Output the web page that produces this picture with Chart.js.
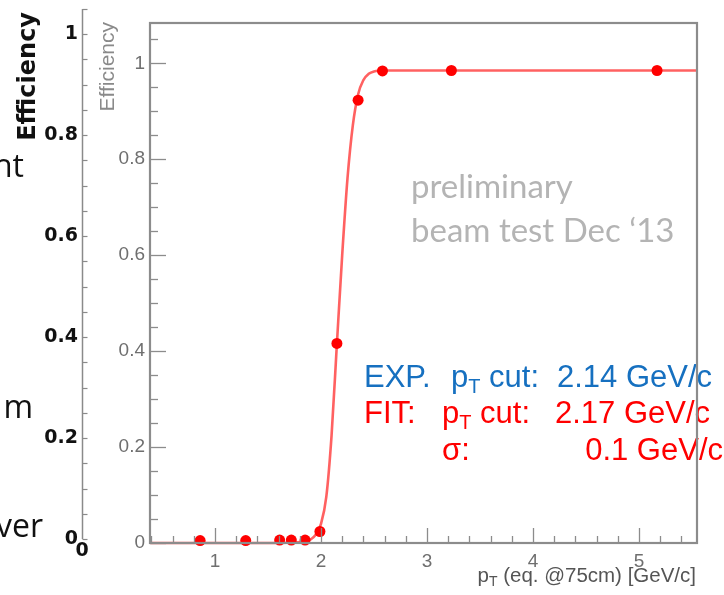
<!DOCTYPE html>
<html><head><meta charset="utf-8">
<script src="https://cdn.jsdelivr.net/npm/chart.js@4/dist/chart.umd.min.js"></script>
<style>
html,body{margin:0;padding:0;background:#fff;}
#wrap{position:relative;width:724px;height:595px;overflow:hidden;background:#fff;}
#outer{position:absolute;left:0;top:0;width:724px;height:595px;}
#inner{position:absolute;left:90px;top:0;width:634px;height:595px;}
</style></head><body>
<div id="wrap">
<canvas id="outer" width="724" height="595"></canvas>
<canvas id="inner" width="634" height="595"></canvas>
</div>
<script>
// ---- data ----
const pointX = [0.86, 1.29, 1.61, 1.72, 1.85, 1.99, 2.15, 2.35, 2.58, 3.23, 5.17];
const pointY = [0.005, 0.005, 0.006, 0.006, 0.006, 0.024, 0.416, 0.923, 0.984, 0.985, 0.985];
const fitX = [0.39, 1.60, 1.75, 1.85, 1.90, 1.95, 2.00, 2.05, 2.10, 2.15, 2.20, 2.25, 2.30, 2.35, 2.40, 2.45, 2.50, 2.60, 2.80, 5.55];
const fitY = [0.000, 0.000, 0.001, 0.003, 0.007, 0.017, 0.040, 0.096, 0.225, 0.415, 0.600, 0.760, 0.870, 0.935, 0.965, 0.978, 0.983, 0.985, 0.985, 0.985];
const innerXTicks = [1, 2, 3, 4, 5];
const innerYTicks = [0, 0.2, 0.4, 0.6, 0.8, 1];
const outerYTicks = [0, 0.2, 0.4, 0.6, 0.8, 1];
const outerXTicks = [0];
const bgFragments = ['nt', 'm', 'ver'];
const watermark = ['preliminary', 'beam test Dec \u201813'];

const ARIAL = '"Liberation Sans", Arial, sans-serif';
const DEJAVU = '"DejaVu Sans", sans-serif';
const plainLabel = v => String(+(+v).toFixed(3));

function minorValues(from, to, step) {
  const out = [];
  for (let i = 0; ; i++) { const v = +(from + i * step).toFixed(6); if (v > to + 1e-9) break; out.push(v); }
  return out;
}

// ---------- outer (slide) axis ----------
const outerPlugin = {
  id: 'outerDeco',
  afterDraw(chart) {
    const ctx = chart.ctx, y = chart.scales.y, ca = chart.chartArea;
    const x0 = ca.left + 0.5;
    ctx.save();
    ctx.strokeStyle = '#8a8a8a'; ctx.lineWidth = 1.5;
    ctx.beginPath();
    ctx.moveTo(x0, y.getPixelForValue(0)); ctx.lineTo(x0, y.getPixelForValue(1.05));
    ctx.stroke();
    ctx.lineWidth = 1.2;
    minorValues(0, 1.05, 0.05).forEach(v => {
      const py = Math.round(y.getPixelForValue(v)) + 0.5;
      ctx.beginPath(); ctx.moveTo(x0, py); ctx.lineTo(x0 + 5, py); ctx.stroke();
    });
    // bold axis title
    ctx.fillStyle = '#111';
    ctx.font = 'bold 24px ' + DEJAVU;
    ctx.translate(35, 12); ctx.rotate(-Math.PI / 2);
    ctx.textAlign = 'right'; ctx.textBaseline = 'alphabetic';
    ctx.fillText('Efficiency', 0, 0);
    ctx.restore();
    // leftover slide text fragments
    ctx.save();
    ctx.fillStyle = '#111';
    ctx.font = '32px "Open Sans", sans-serif';
    ctx.textAlign = 'right'; ctx.textBaseline = 'alphabetic';
    ctx.fillText(bgFragments[0], 24, 177);
    ctx.fillText(bgFragments[1], 33, 418);
    ctx.fillText(bgFragments[2], 43, 537);
    ctx.restore();
  }
};

new Chart(document.getElementById('outer'), {
  type: 'scatter',
  data: { datasets: [] },
  options: {
    responsive: false, animation: false,
    layout: { padding: { top: 9, left: 0, right: 0, bottom: 0 } },
    plugins: { legend: { display: false }, tooltip: { enabled: false } },
    scales: {
      x: {
        type: 'linear', min: 0, max: 10, position: 'bottom',
        afterBuildTicks: s => { s.ticks = outerXTicks.map(v => ({ value: v })); },
        afterFit: s => { s.height = 56; s.paddingLeft = 0; s.paddingRight = 0; },
        grid: { display: false, drawTicks: false }, border: { display: false },
        ticks: { font: { family: DEJAVU, weight: 'bold', size: 19 }, color: '#111', padding: 1, maxRotation: 0, callback: plainLabel }
      },
      y: {
        type: 'linear', min: 0, max: 1.05, position: 'left',
        afterBuildTicks: s => { s.ticks = outerYTicks.map(v => ({ value: v })); },
        afterFit: s => { s.width = 82; s.paddingTop = 0; s.paddingBottom = 0; },
        grid: { display: false, drawTicks: false }, border: { display: false },
        ticks: { font: { family: DEJAVU, weight: 'bold', size: 19 }, color: '#111', padding: 4, callback: plainLabel }
      }
    }
  },
  plugins: [outerPlugin]
});

// ---------- inner (ROOT) plot ----------
function drawPT(ctx, x, y, size, color, rest) {
  ctx.fillStyle = color;
  ctx.font = size + 'px ' + ARIAL;
  ctx.fillText('p', x, y);
  let cx = x + ctx.measureText('p').width;
  const sub = Math.round(size * 0.66);
  ctx.font = sub + 'px ' + ARIAL;
  ctx.fillText('T', cx, y + size * 0.18);
  cx += ctx.measureText('T').width;
  ctx.font = size + 'px ' + ARIAL;
  ctx.fillText(rest, cx, y);
  return cx + ctx.measureText(rest).width;
}

const innerPlugin = {
  id: 'innerDeco',
  afterDatasetsDraw(chart) {
    const ctx = chart.ctx;
    const off = 90; // canvas is placed 90px from page left
    ctx.save();
    ctx.textAlign = 'left'; ctx.textBaseline = 'alphabetic';
    // watermark
    ctx.fillStyle = '#b4b4b4';
    ctx.font = '33px Lato, sans-serif';
    ctx.fillText(watermark[0], 411 - off, 198);
    ctx.fillText(watermark[1], 411 - off, 242);
    // annotation block
    const blue = '#1670c0', red = '#ff0000', fs = 31;
    ctx.font = fs + 'px ' + ARIAL;
    ctx.fillStyle = blue; ctx.fillText('EXP.', 364 - off, 387);
    drawPT(ctx, 451 - off, 387, fs, blue, ' cut:');
    ctx.fillStyle = blue; ctx.font = fs + 'px ' + ARIAL; ctx.fillText('2.14 GeV/c', 557 - off, 387);
    ctx.fillStyle = red; ctx.fillText('FIT:', 364 - off, 423);
    drawPT(ctx, 442 - off, 423, fs, red, ' cut:');
    ctx.fillStyle = red; ctx.font = fs + 'px ' + ARIAL; ctx.fillText('2.17 GeV/c', 555 - off, 423);
    ctx.fillText('\u03c3:', 442 - off, 460);
    ctx.textAlign = 'right';
    ctx.fillText('0.1 GeV/c', 723 - off, 460);
    ctx.restore();
  },
  afterDraw(chart) {
    const ctx = chart.ctx, ca = chart.chartArea, xs = chart.scales.x, ys = chart.scales.y;
    ctx.save();
    ctx.strokeStyle = '#8c8c8c';
    ctx.lineWidth = 1.3;
    // ticks
    minorValues(0, 1.05, 0.05).forEach(v => {
      const major = innerYTicks.some(t => Math.abs(t - v) < 1e-6);
      const py = Math.round(ys.getPixelForValue(v)) + 0.5;
      ctx.beginPath(); ctx.moveTo(ca.left, py); ctx.lineTo(ca.left + (major ? 16 : 8), py); ctx.stroke();
    });
    minorValues(0.4, 5.4, 0.2).forEach(v => {
      const major = innerXTicks.some(t => Math.abs(t - v) < 1e-6);
      const px = Math.round(xs.getPixelForValue(v)) + 0.5;
      ctx.beginPath(); ctx.moveTo(px, ca.bottom); ctx.lineTo(px, ca.bottom - (major ? 15 : 7)); ctx.stroke();
    });
    // frame
    ctx.lineWidth = 2.2;
    ctx.strokeRect(ca.left, ca.top, ca.right - ca.left, ca.bottom - ca.top);
    // y title
    ctx.fillStyle = '#8a8a8a';
    ctx.font = '21px ' + ARIAL;
    ctx.save();
    ctx.translate(114 - 90, 22); ctx.rotate(-Math.PI / 2);
    ctx.textAlign = 'right'; ctx.textBaseline = 'alphabetic';
    ctx.fillText('Efficiency', 0, 0);
    ctx.restore();
    // x title (right aligned at frame edge)
    const xs_ = 20.5;
    ctx.font = xs_ + 'px ' + ARIAL;
    const rest = ' (eq. @75cm) [GeV/c]';
    const wRest = ctx.measureText(rest).width;
    ctx.font = Math.round(xs_ * 0.66) + 'px ' + ARIAL; const wT = ctx.measureText('T').width;
    ctx.font = xs_ + 'px ' + ARIAL; const wP = ctx.measureText('p').width;
    const start = 696 - 90 - wRest - wT - wP;
    ctx.textAlign = 'left';
    drawPT(ctx, start, 582, xs_, '#555', rest);
    ctx.restore();
  }
};

new Chart(document.getElementById('inner'), {
  type: 'scatter',
  data: {
    datasets: [
      {
        label: 'data',
        data: pointX.map((x, i) => ({ x: x, y: pointY[i] })),
        backgroundColor: '#ff0000', borderColor: '#ff0000', borderWidth: 0,
        pointRadius: 5.5, showLine: false, clip: false
      },
      {
        label: 'fit',
        data: fitX.map((x, i) => ({ x: x, y: fitY[i] })),
        showLine: true, pointRadius: 0, borderColor: 'rgba(255,30,30,0.7)', borderWidth: 2.6,
        cubicInterpolationMode: 'monotone', fill: false, clip: false
      }
    ]
  },
  options: {
    responsive: false, animation: false,
    layout: { padding: { top: 23, right: 27, left: 0, bottom: 0 } },
    plugins: { legend: { display: false }, tooltip: { enabled: false } },
    scales: {
      x: {
        type: 'linear', min: 0.387, max: 5.547, position: 'bottom',
        afterBuildTicks: s => { s.ticks = innerXTicks.map(v => ({ value: v })); },
        afterFit: s => { s.height = 52; s.paddingLeft = 0; s.paddingRight = 0; },
        grid: { display: false, drawTicks: false }, border: { display: false },
        ticks: { font: { family: ARIAL, size: 19 }, color: '#6f6f6f', padding: 7, maxRotation: 0, callback: plainLabel }
      },
      y: {
        type: 'linear', min: 0, max: 1.084, position: 'left',
        afterBuildTicks: s => { s.ticks = innerYTicks.map(v => ({ value: v })); },
        afterFit: s => { s.width = 60; s.paddingTop = 0; s.paddingBottom = 0; },
        grid: { display: false, drawTicks: false }, border: { display: false },
        ticks: { font: { family: ARIAL, size: 19 }, color: '#6f6f6f', padding: 5, callback: plainLabel }
      }
    }
  },
  plugins: [innerPlugin]
});
</script>
</body></html>
